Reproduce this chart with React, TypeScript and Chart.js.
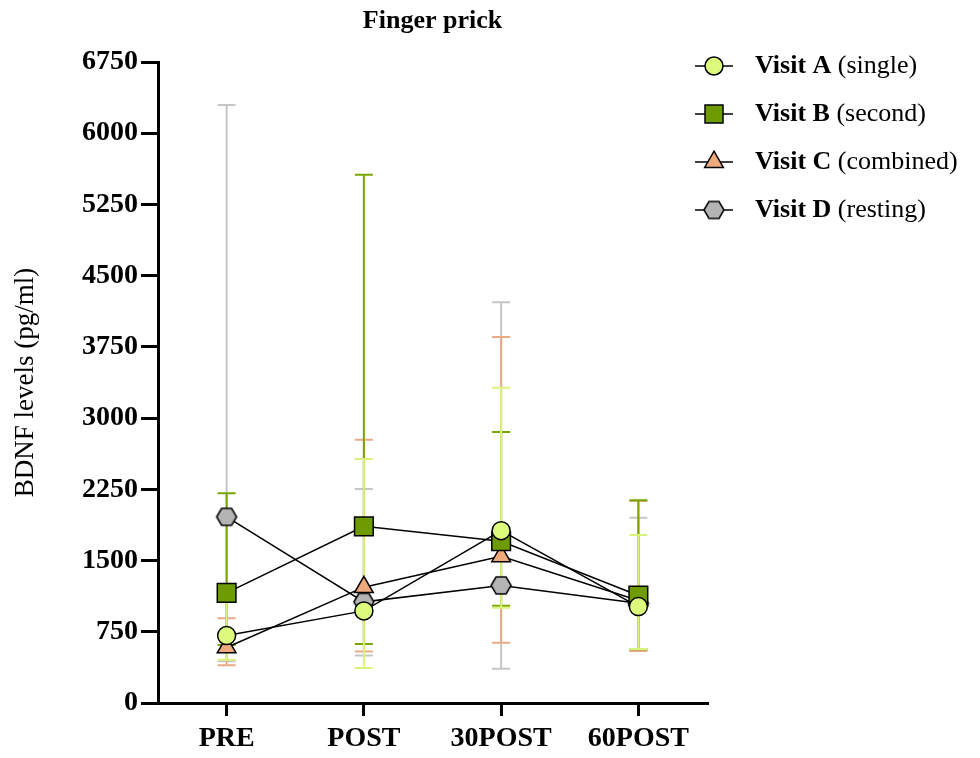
import React, { useEffect, useRef } from 'react';
import { Chart, registerables } from 'chart.js';

Chart.register(...registerables);

const categories = ['PRE', 'POST', '30POST', '60POST'];
const yTicks = [0, 750, 1500, 2250, 3000, 3750, 4500, 5250, 6000, 6750];

const seriesNames = ['Visit A', 'Visit B', 'Visit C', 'Visit D'];
const seriesNotes = ['(single)', '(second)', '(combined)', '(resting)'];

const visitA = [710, 970, 1815, 1015];
const visitAUpper = [1110, 2570, 3320, 1768];
const visitALower = [455, 368, 1002, 568];

const visitB = [1160, 1860, 1703, 1132];
const visitBUpper = [2210, 5562, 2854, 2135];
const visitBLower = [612, 622, 1024, 565];

const visitC = [585, 1220, 1545, 1080];
const visitCUpper = [893, 2771, 3854, 2128];
const visitCLower = [398, 543, 634, 548];

const visitD = [1960, 1065, 1238, 1050];
const visitDUpper = [6297, 2254, 4220, 1950];
const visitDLower = [440, 500, 360, 560];

const fills = ['#dcfb7c', '#6e9c00', '#eeaa7c', '#b4b4b4'];
const barColors = ['#d9f47a', '#79a600', '#e9ab86', '#c6c6c6'];

function makeHexagon(w: number, h: number, fill: string): HTMLCanvasElement {
  const c = document.createElement('canvas');
  c.width = w + 4;
  c.height = h + 4;
  const ctx = c.getContext('2d')!;
  const cx = c.width / 2;
  const cy = c.height / 2;
  const hw = w / 2;
  const hh = h / 2;
  ctx.beginPath();
  ctx.moveTo(cx - hw, cy);
  ctx.lineTo(cx - hw / 2, cy - hh);
  ctx.lineTo(cx + hw / 2, cy - hh);
  ctx.lineTo(cx + hw, cy);
  ctx.lineTo(cx + hw / 2, cy + hh);
  ctx.lineTo(cx - hw / 2, cy + hh);
  ctx.closePath();
  ctx.fillStyle = fill;
  ctx.fill();
  ctx.lineWidth = 1.5;
  ctx.strokeStyle = '#000';
  ctx.stroke();
  return c;
}

export default function App() {
  const ref = useRef<HTMLCanvasElement | null>(null);

  useEffect(() => {
    document.body.style.margin = '0';
    const canvas = ref.current;
    if (!canvas) return;

    const hex = makeHexagon(20, 17, fills[3]);
    const uppers = [visitAUpper, visitBUpper, visitCUpper, visitDUpper];
    const lowers = [visitALower, visitBLower, visitCLower, visitDLower];
    const styles: any[] = ['circle', 'rect', 'triangle', hex];
    const radii = [9, 13.2, 10.8, 10];

    const errorBarPlugin = {
      id: 'errorBars',
      beforeDatasetsDraw(chart: any) {
        const { ctx } = chart;
        const xs = chart.scales.x;
        const ys = chart.scales.y;
        for (let i = chart.data.datasets.length - 1; i >= 0; i--) {
          ctx.save();
          ctx.strokeStyle = barColors[i];
          ctx.lineWidth = 2;
          chart.data.datasets[i].data.forEach((_v: number, j: number) => {
            const x = xs.getPixelForValue(j);
            const yU = ys.getPixelForValue(uppers[i][j]);
            const yL = ys.getPixelForValue(lowers[i][j]);
            ctx.beginPath();
            ctx.moveTo(x, yU);
            ctx.lineTo(x, yL);
            ctx.moveTo(x - 9, yU);
            ctx.lineTo(x + 9, yU);
            ctx.moveTo(x - 9, yL);
            ctx.lineTo(x + 9, yL);
            ctx.stroke();
          });
          ctx.restore();
        }
      },
    };

    const legendPlugin = {
      id: 'customLegend',
      afterDraw(chart: any) {
        const { ctx } = chart;
        const x0 = 695;
        const y0 = 66;
        const step = 48;
        ctx.save();
        seriesNames.forEach((name, i) => {
          const y = y0 + i * step;
          ctx.strokeStyle = '#000';
          ctx.lineWidth = 1.5;
          ctx.beginPath();
          ctx.moveTo(x0, y);
          ctx.lineTo(x0 + 38, y);
          ctx.stroke();
          const cx = x0 + 19;
          ctx.fillStyle = fills[i];
          ctx.lineWidth = 1.5;
          if (i === 0) {
            ctx.beginPath();
            ctx.arc(cx, y, 9, 0, Math.PI * 2);
            ctx.fill();
            ctx.stroke();
          } else if (i === 1) {
            ctx.beginPath();
            ctx.rect(cx - 9, y - 9, 18, 18);
            ctx.fill();
            ctx.stroke();
          } else if (i === 2) {
            const r = 10.8;
            ctx.beginPath();
            ctx.moveTo(cx, y - r);
            ctx.lineTo(cx + r * Math.sin((2 * Math.PI) / 3), y - r * Math.cos((2 * Math.PI) / 3));
            ctx.lineTo(cx + r * Math.sin((4 * Math.PI) / 3), y - r * Math.cos((4 * Math.PI) / 3));
            ctx.closePath();
            ctx.fill();
            ctx.stroke();
          } else {
            ctx.drawImage(hex, cx - hex.width / 2, y - hex.height / 2);
          }
          ctx.fillStyle = '#000';
          ctx.textBaseline = 'middle';
          ctx.textAlign = 'left';
          ctx.font = 'bold 26px "Liberation Serif"';
          ctx.fillText(name, 755, y);
          const w = ctx.measureText(name + ' ').width;
          ctx.font = '26px "Liberation Serif"';
          ctx.fillText(seriesNotes[i], 755 + w, y);
        });
        ctx.restore();
      },
    };

    const series = [visitA, visitB, visitC, visitD];
    const chart = new Chart(canvas, {
      type: 'line',
      data: {
        labels: categories,
        datasets: series.map((d, i) => ({
          label: seriesNames[i] + ' ' + seriesNotes[i],
          data: d,
          borderColor: '#000',
          borderWidth: 1.5,
          backgroundColor: fills[i],
          pointBackgroundColor: fills[i],
          pointBorderColor: '#000',
          pointBorderWidth: 1.5,
          pointStyle: styles[i],
          pointRadius: radii[i],
          pointHoverRadius: radii[i],
          tension: 0,
          fill: false,
        })),
      },
      options: {
        animation: false,
        responsive: true,
        maintainAspectRatio: false,
        events: [],
        layout: { padding: { left: 0, right: 273, top: 0, bottom: 0 } },
        plugins: {
          legend: { display: false },
          tooltip: { enabled: false },
          title: {
            display: true,
            text: 'Finger prick',
            fullSize: false,
            color: '#000',
            font: { family: '"Liberation Serif"', size: 26, weight: 'bold' },
            padding: { top: 6, bottom: 24.8 },
          },
        },
        scales: {
          x: {
            type: 'category',
            offset: true,
            grid: {
              offset: false,
              drawOnChartArea: false,
              drawTicks: true,
              tickLength: 13,
              color: '#000',
              lineWidth: 3,
            },
            border: { display: true, color: '#000', width: 3 },
            ticks: {
              color: '#000',
              padding: 6,
              font: { family: '"Liberation Serif"', size: 28, weight: 'bold' },
              maxRotation: 0,
            },
            afterFit(scale: any) {
              scale.height = 55;
            },
          },
          y: {
            min: 0,
            max: 6750,
            afterBuildTicks(scale: any) {
              scale.ticks = yTicks.map((v) => ({ value: v }));
            },
            grid: {
              drawOnChartArea: false,
              drawTicks: true,
              tickLength: 17,
              color: '#000',
              lineWidth: 3,
            },
            border: { display: true, color: '#000', width: 3 },
            ticks: {
              color: '#000',
              padding: 3,
              font: { family: '"Liberation Serif"', size: 28, weight: 'bold' },
              callback: (v: any) => String(v),
            },
            title: {
              display: true,
              text: 'BDNF levels (pg/ml)',
              color: '#000',
              font: { family: '"Liberation Serif"', size: 27, weight: 'normal' },
              padding: { top: 10, bottom: 0 },
            },
            afterFit(scale: any) {
              scale.width = 158;
            },
          },
        },
      } as any,
      plugins: [errorBarPlugin, legendPlugin],
    });

    return () => chart.destroy();
  }, []);

  return (
    <div style={{ width: 980, height: 758, position: 'relative' }}>
      <canvas ref={ref} />
    </div>
  );
}
